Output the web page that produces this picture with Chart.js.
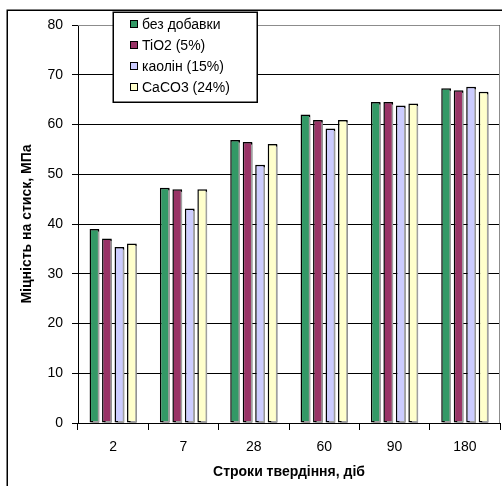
<!DOCTYPE html>
<html>
<head>
<meta charset="utf-8">
<script src="https://cdn.jsdelivr.net/npm/chart.js@4/dist/chart.umd.min.js"></script>
<style>
  body { margin: 0; background: #fff; }
  canvas { display: block; }
</style>
</head>
<body>
<canvas id="chart-strength" width="502" height="486"></canvas>
<script>
// строки твердіння, діб
var days = ['2', '7', '28', '60', '90', '180'];
// міцність на стиск, МПа
var bezDobavky = [39.0, 47.3, 56.9, 62.0, 64.5, 67.3];
var tio2 = [37.1, 47.0, 56.5, 60.9, 64.5, 66.9];
var kaolin = [35.4, 43.1, 51.9, 59.2, 63.8, 67.6];
var caco3 = [36.1, 47.0, 56.1, 60.9, 64.2, 66.6];
var seriesNames = ['без добавки', 'TiO2 (5%)', 'каолін (15%)', 'CaCO3 (24%)'];
var seriesColors = ['#339966', '#993366', '#ccccff', '#ffffcc'];

var FONT = 'Arial, "Liberation Sans", sans-serif';

function makeSet(i, values) {
  return {
    label: seriesNames[i],
    data: values,
    backgroundColor: seriesColors[i],
    borderColor: '#000',
    borderWidth: 1.5,
    borderSkipped: false,
    categoryPercentage: 0.71,
    barPercentage: 0.78
  };
}

// bar shadows, gray frame, outer frame and the boxed legend
var decor = {
  id: 'decor',
  beforeDatasetsDraw: function(chart) {
    var ctx = chart.ctx;
    ctx.save();
    ctx.shadowColor = '#a0a0a0';
    ctx.shadowOffsetX = 2;
    ctx.shadowOffsetY = 1;
    ctx.shadowBlur = 0;
  },
  afterDatasetsDraw: function(chart) {
    chart.ctx.restore();
  },
  afterDraw: function(chart) {
    var ctx = chart.ctx;
    var a = chart.chartArea;
    ctx.save();
    // plot frame top/right
    ctx.strokeStyle = '#8c8c8c';
    ctx.lineWidth = 1;
    ctx.beginPath();
    ctx.moveTo(a.left, a.top + 0.5);
    ctx.lineTo(a.right - 0.5, a.top + 0.5);
    ctx.lineTo(a.right - 0.5, a.bottom);
    ctx.stroke();
    // outer frame
    ctx.strokeStyle = '#000';
    ctx.lineWidth = 1.5;
    ctx.strokeRect(7.25, 10.25, 520, 520);
    // legend
    var lx = 113, ly = 12, lw = 144, lh = 90;
    ctx.fillStyle = '#fff';
    ctx.fillRect(lx, ly, lw, lh);
    ctx.lineWidth = 1.5;
    ctx.strokeRect(lx + 0.25, ly + 0.25, lw, lh);
    ctx.font = '14px ' + FONT;
    ctx.textBaseline = 'middle';
    chart.data.datasets.forEach(function(ds, i) {
      var y = ly + 12 + i * 21;
      ctx.fillStyle = ds.backgroundColor;
      ctx.fillRect(130, y - 4, 8, 8);
      ctx.lineWidth = 1;
      ctx.strokeStyle = '#000';
      ctx.strokeRect(130.5, y - 3.5, 7, 7);
      ctx.fillStyle = '#000';
      ctx.fillText(ds.label, 142, y + 1);
    });
    ctx.restore();
  }
};

new Chart(document.getElementById('chart-strength').getContext('2d'), {
  type: 'bar',
  data: {
    labels: days,
    datasets: [
      makeSet(0, bezDobavky),
      makeSet(1, tio2),
      makeSet(2, kaolin),
      makeSet(3, caco3)
    ]
  },
  options: {
    responsive: false,
    devicePixelRatio: 1,
    animation: false,
    layout: {
      padding: { top: 25, right: 2, bottom: 0, left: 0 }
    },
    plugins: {
      legend: { display: false },
      tooltip: { enabled: false }
    },
    scales: {
      x: {
        afterFit: function(s) { s.height = 63; },
        grid: {
          drawOnChartArea: false,
          tickLength: 7,
          color: '#000'
        },
        border: { color: '#000', width: 1 },
        ticks: {
          color: '#000',
          padding: 9,
          font: { family: FONT, size: 14 }
        },
        title: {
          display: true,
          text: 'Строки твердіння, діб',
          color: '#000',
          padding: { top: 0, bottom: 5 },
          font: { family: FONT, size: 14, weight: 'bold' }
        }
      },
      y: {
        min: 0,
        max: 80,
        afterFit: function(s) { s.width = 78; },
        grid: {
          color: '#000',
          tickLength: 6
        },
        border: { color: '#000', width: 1 },
        ticks: {
          stepSize: 10,
          color: '#000',
          padding: 9,
          font: { family: FONT, size: 14 }
        },
        title: {
          display: true,
          text: 'Міцність на стиск, МПа',
          color: '#000',
          padding: { top: 19, bottom: 0 },
          font: { family: FONT, size: 14, weight: 'bold' }
        }
      }
    }
  },
  plugins: [decor]
});
</script>
</body>
</html>
